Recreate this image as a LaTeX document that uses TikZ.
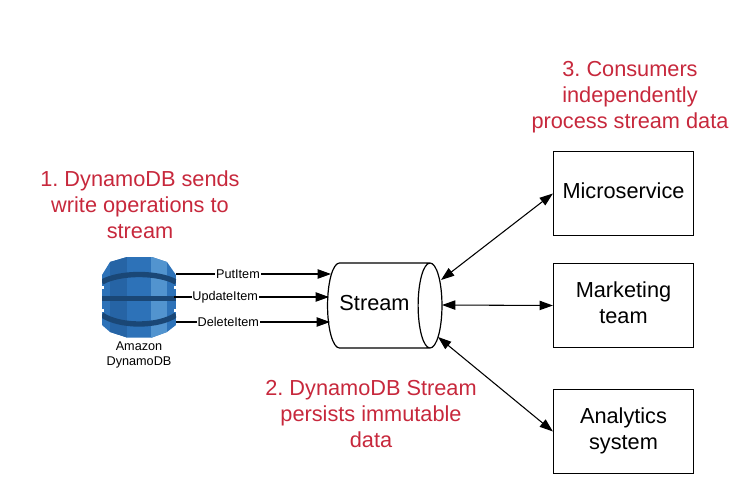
\documentclass[tikz,border=0pt]{standalone}
\usepackage{fontspec}
\setmainfont{Liberation Sans}
\usetikzlibrary{arrows.meta,shapes.geometric}
\definecolor{notered}{HTML}{C7283C}
\definecolor{iconmid}{RGB}{45,114,184}
\definecolor{icondark}{RGB}{38,100,165}
\definecolor{iconlight}{RGB}{82,148,207}
\definecolor{iconband}{RGB}{26,71,118}
\frenchspacing
\tikzset{
  note/.style={text=notered, font=\fontsize{16.3}{19.5}\selectfont, align=center},
  box/.style={draw, line width=0.9pt, minimum width=105pt, minimum height=62.5pt, inner sep=0pt,
    font=\fontsize{16.3}{19.5}\selectfont, align=center, execute at end node={\rule[-5pt]{0pt}{0pt}}},
  conn/.style={line width=0.8pt, -{Triangle[length=10pt,width=7pt]}},
  biconn/.style={line width=0.8pt, {Triangle[length=10pt,width=7pt]}-{Triangle[length=10pt,width=7pt]}},
  oplabel/.style={fill=white, inner sep=0.6pt, font=\fontsize{9.5}{11}\selectfont},
  band/.style={line width=4pt, color=iconband},
}
\begin{document}
\begin{tikzpicture}[x=0.75pt,y=-0.75pt]
\useasboundingbox (0,0) rectangle (751,504);

% icon
\begin{scope}
\clip (110,262) -- (127,257) -- (152,257) -- (167,262) -- (176,275) -- (176,325) -- (167,332) -- (152,337.5) -- (127,337.5) -- (110,332) -- (102,325) -- (102,275) -- cycle;
\fill [iconmid] (102,257) rectangle (176,338);
\fill [icondark] (110,257) rectangle (127,338);
\fill [iconlight] (151,257) rectangle (167,338);
\draw [band] (102,282) .. controls (120,272) and (158,272) .. (176,282);
\draw [band] (102,298.5) -- (176,298.5);
\draw [band] (102,315) .. controls (120,327) and (158,327) .. (176,315);
\fill [white] (100,286) rectangle (104,289);
\fill [white] (174,286) rectangle (178,289);
\fill [white] (100,309) rectangle (104,312);
\fill [white] (174,309) rectangle (178,312);
\end{scope}
\node [font=\fontsize{9.5}{11.5}\selectfont, align=center] (dynamo) at (139,355) {Amazon\\DynamoDB};

\node [cylinder, draw, line width=0.9pt, shape aspect=1.55, minimum width=63.75pt, minimum height=84.75pt, inner sep=0pt, outer sep=0pt, font=\fontsize{16.3}{19.5}\selectfont] (stream) at (378.5,305.5) {\raisebox{1.5pt}[\height][\depth]{Stream}\hspace{6pt}\null};

\node [box] (micro) at (623.5,193.5) {Microservice};
\node [box] (market) at (623.5,305.5) {Marketing\\team};
\node [box] (analytics) at (623.5,431.5) {Analytics\\system};

\coordinate (put) at (176,274);
\coordinate (update) at (174,297);
\coordinate (delete) at (176,322);
\coordinate (in1) at (331,274);
\coordinate (in2) at (329,297);
\coordinate (in3) at (330,322);
\coordinate (out1) at (441,280);
\coordinate (out2) at (442,305);
\coordinate (out3) at (438,337);

\draw [conn] (put) -- node [oplabel, pos=0.4] {PutItem} (in1);
\draw [conn] (update) -- node [oplabel, pos=0.33] {UpdateItem} (in2);
\draw [conn] (delete) -- node [oplabel, pos=0.34] {DeleteItem} (in3);

\draw [biconn] (out1) -- (micro.west);
\draw [biconn] (out2) -- (market.west);
\draw [biconn] (out3) -- (analytics.west);

\node [note] (note1) at (140,205) {1. DynamoDB sends\\write operations to\\stream};
\node [note] (note2) at (371,414) {2. DynamoDB Stream\\persists immutable\\data};
\node [note] (note3) at (630,97) {3. Consumers\\independently\\process stream data};
\end{tikzpicture}
\end{document}
